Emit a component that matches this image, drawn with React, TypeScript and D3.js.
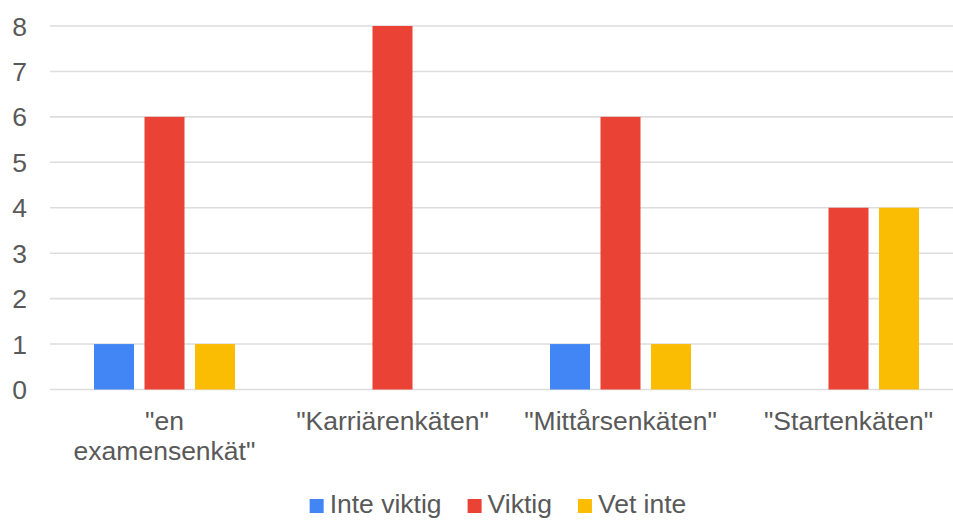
import React, { useEffect, useRef } from "react";
import * as d3 from "d3";

const categories = ['"en examensenkät"', '"Karriärenkäten"', '"Mittårsenkäten"', '"Startenkäten"'];
const seriesNames = ["Inte viktig", "Viktig", "Vet inte"];
const inteViktig = [1, 0, 1, 0];
const viktig = [6, 8, 6, 4];
const vetInte = [1, 0, 1, 4];
const yTicks = [0, 1, 2, 3, 4, 5, 6, 7, 8];
const colors = ["#4285F4", "#EA4335", "#FBBC04"];

const W = 953;
const H = 520;

export default function App() {
  const ref = useRef<SVGSVGElement>(null);
  useEffect(() => {
    const svg = d3.select(ref.current);
    svg.selectAll("*").remove();
    const font = "Liberation Sans, Arial, sans-serif";
    const textColor = "#595959";
    const fs = 26.5;
    const values = [inteViktig, viktig, vetInte];

    const x0 = d3.scaleBand<string>().domain(categories).range([50.5, 962.5]).padding(0);
    const x1 = d3
      .scaleBand<string>()
      .domain(seriesNames)
      .range([0, x0.bandwidth()])
      .paddingInner(0.208)
      .paddingOuter(0.861);
    const y = d3.scaleLinear().domain([0, 8]).range([389.5, 26]);

    // gridlines
    svg
      .append("g")
      .selectAll("line")
      .data(yTicks)
      .join("line")
      .attr("x1", 50)
      .attr("x2", W)
      .attr("y1", (d) => y(d))
      .attr("y2", (d) => y(d))
      .attr("stroke", "#dddddd")
      .attr("stroke-width", 1.6);

    // y tick labels
    svg
      .append("g")
      .selectAll("text")
      .data(yTicks)
      .join("text")
      .attr("x", 27)
      .attr("y", (d) => y(d))
      .attr("dy", "0.36em")
      .attr("text-anchor", "end")
      .attr("font-family", font)
      .attr("font-size", fs)
      .attr("fill", textColor)
      .text((d) => String(d));

    // bars
    const g = svg.append("g");
    categories.forEach((c, ci) => {
      seriesNames.forEach((s, si) => {
        const v = values[si][ci];
        if (v <= 0) return;
        g.append("rect")
          .attr("x", (x0(c) as number) + (x1(s) as number))
          .attr("y", y(v))
          .attr("width", x1.bandwidth())
          .attr("height", y(0) - y(v))
          .attr("fill", colors[si]);
      });
    });

    // x labels
    const lines: Record<string, string[]> = {
      '"en examensenkät"': ['"en', 'examensenkät"'],
    };
    categories.forEach((c) => {
      const cx = (x0(c) as number) + x0.bandwidth() / 2;
      const ls = lines[c] || [c];
      const t = svg
        .append("text")
        .attr("text-anchor", "middle")
        .attr("font-family", font)
        .attr("font-size", fs)
        .attr("fill", textColor);
      ls.forEach((l, i) => {
        t.append("tspan").attr("x", cx).attr("y", 430 + i * 30).text(l);
      });
    });

    // legend
    const leg = svg.append("g");
    let cursor = 0;
    seriesNames.forEach((s, i) => {
      const ig = leg.append("g");
      ig.append("rect")
        .attr("x", 0)
        .attr("y", 499)
        .attr("width", 14)
        .attr("height", 14)
        .attr("fill", colors[i]);
      const t = ig
        .append("text")
        .attr("x", 20)
        .attr("y", 513)
        .attr("font-family", font)
        .attr("font-size", fs)
        .attr("fill", textColor)
        .text(s);
      const w = (t.node() as SVGTextElement).getComputedTextLength();
      ig.attr("transform", `translate(${cursor},0)`);
      cursor += 20 + w + 26;
    });
    const total = cursor - 26;
    leg.attr("transform", `translate(${498 - total / 2},0)`);
  }, []);

  return (
    <svg
      ref={ref}
      width={W}
      height={H}
      style={{ position: "absolute", left: 0, top: 0, background: "#fff" }}
    />
  );
}
